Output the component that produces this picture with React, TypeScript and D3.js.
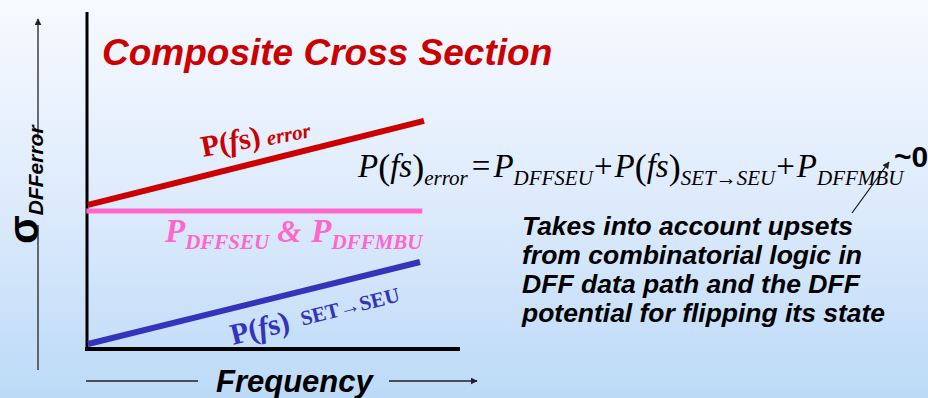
import React from "react";
import * as d3 from "d3";

// ---- data (normalized frequency vs. cross section) ----
const errorFreq = [0, 1];
const errorSigma = [42.6, 67.6];
const seuFreq = [-0.005, 0.995];
const seuSigma = [40.8, 40.8];
const setFreq = [0, 0.988];
const setSigma = [1.2, 25.6];

const titleText = "Composite Cross Section";
const xAxisLabel = "Frequency";
const noteLines = [
  "Takes into account upsets",
  "from combinatorial logic in",
  "DFF data path and the DFF",
  "potential for flipping its state",
];
const noteWidths = [331, 340, 338, 363];

const W = 928;
const H = 398;

export default function App() {
  const x = d3.scaleLinear().domain([0, 1]).range([88, 424]);
  const y = d3.scaleLinear().domain([0, 100]).range([348, 12]);
  const line = d3
    .line<[number, number]>()
    .x((d) => x(d[0]))
    .y((d) => y(d[1]));
  const pts = (fx: number[], sy: number[]) =>
    fx.map((f, i) => [f, sy[i]] as [number, number]);

  const sans = "'Liberation Sans', Arial, Helvetica, sans-serif";
  const serif = "'Liberation Serif', 'Times New Roman', Times, serif";

  return (
    <svg
      width={W}
      height={H}
      viewBox={`0 0 ${W} ${H}`}
      style={{ position: "absolute", left: 0, top: 0, display: "block" }}
    >
      <defs>
        <linearGradient id="bg" x1="0" y1="0" x2="0" y2="1">
          <stop offset="0" stopColor="#f7faff" />
          <stop offset="0.5" stopColor="#deebfc" />
          <stop offset="1" stopColor="#bcdaf7" />
        </linearGradient>
        <marker
          id="arr"
          viewBox="0 0 10 10"
          refX="9"
          refY="5"
          markerWidth="7"
          markerHeight="7"
          markerUnits="userSpaceOnUse"
          orient="auto"
        >
          <path d="M0,0 L10,5 L0,10 z" fill="#222" />
        </marker>
      </defs>
      <rect x={0} y={0} width={W} height={H} fill="url(#bg)" />

      {/* y axis direction arrow */}
      <line x1={38} y1={370} x2={38} y2={225} stroke="#333" strokeWidth={1.4} />
      <line
        x1={38}
        y1={140}
        x2={38}
        y2={19}
        stroke="#333"
        strokeWidth={1.4}
        markerEnd="url(#arr)"
      />
      <text
        transform="translate(38,244) rotate(-90)"
        fontFamily={sans}
        fontWeight="bold"
        fill="#000"
      >
        <tspan fontSize={42}>σ</tspan>
        <tspan fontSize={21} fontStyle="italic" dy={5}>
          DFFerror
        </tspan>
      </text>

      {/* x axis direction arrow */}
      <line x1={86} y1={381} x2={198} y2={381} stroke="#222" strokeWidth={1.4} />
      <line
        x1={389}
        y1={381}
        x2={477}
        y2={381}
        stroke="#222"
        strokeWidth={1.4}
        markerEnd="url(#arr)"
      />
      <text
        x={216}
        y={392}
        fontFamily={sans}
        fontWeight="bold"
        fontStyle="italic"
        fontSize={31}
        fill="#000"
      >
        {xAxisLabel}
      </text>

      {/* axes */}
      <line x1={x(0) - 1} y1={y(100)} x2={x(0) - 1} y2={y(0) + 2} stroke="#000" strokeWidth={3} />
      <line x1={x(0) - 3} y1={y(0) + 1} x2={460} y2={y(0) + 1} stroke="#000" strokeWidth={4} />

      {/* title */}
      <text
        x={102}
        y={65}
        fontFamily={sans}
        fontWeight="bold"
        fontStyle="italic"
        fontSize={37}
        fill="#cc0000"
      >
        {titleText}
      </text>

      {/* series lines */}
      <path d={line(pts(seuFreq, seuSigma)) || ""} stroke="#ff66cc" strokeWidth={5} fill="none" />
      <path d={line(pts(errorFreq, errorSigma)) || ""} stroke="#cc0000" strokeWidth={6} fill="none" />
      <path d={line(pts(setFreq, setSigma)) || ""} stroke="#3333bb" strokeWidth={6} fill="none" />

      {/* red label */}
      <text
        transform="translate(203,157) rotate(-11)"
        fontFamily={serif}
        fontWeight="bold"
        fontSize={30}
        fill="#cc0000"
      >
        <tspan>P(</tspan>
        <tspan fontStyle="italic">f</tspan>
        <tspan>s)</tspan>
        <tspan fontSize={21} fontStyle="italic" dx={6} dy={1}>
          error
        </tspan>
      </text>

      {/* pink label */}
      <text
        x={165}
        y={242}
        fontFamily={serif}
        fontWeight="bold"
        fontStyle="italic"
        fontSize={33}
        fill="#ff66cc"
      >
        <tspan>P</tspan>
        <tspan fontSize={21} dy={7}>
          DFFSEU
        </tspan>
        <tspan dy={-7} dx={8} fontSize={31}>
          &amp;
        </tspan>
        <tspan dx={10}>P</tspan>
        <tspan fontSize={21} dy={7}>
          DFFMBU
        </tspan>
      </text>

      {/* blue label */}
      <text
        transform="translate(233,345) rotate(-14)"
        fontFamily={serif}
        fontWeight="bold"
        fontSize={30}
        fill="#3333bb"
      >
        <tspan>P(</tspan>
        <tspan fontStyle="italic">f</tspan>
        <tspan>s)</tspan>
        <tspan fontSize={21} dx={12} dy={-2}>
          SET→SEU
        </tspan>
      </text>

      {/* equation */}
      <text x={358} y={177} fontFamily={serif} fontStyle="italic" fontSize={33} fill="#000">
        <tspan>P</tspan>
        <tspan fontStyle="normal" fontSize={36} dy={2}>(</tspan>
        <tspan dy={-2}>fs</tspan>
        <tspan fontStyle="normal" fontSize={36} dy={2}>)</tspan>
        <tspan fontSize={21} dy={6}>
          error
        </tspan>
        <tspan dy={-8} dx={4} fontStyle="normal">
          =
        </tspan>
        <tspan dx={3}>P</tspan>
        <tspan fontSize={21} dy={8}>
          DFFSEU
        </tspan>
        <tspan dy={-8} dx={1} fontStyle="normal">
          +
        </tspan>
        <tspan dx={2}>P</tspan>
        <tspan fontStyle="normal" fontSize={36} dy={2}>(</tspan>
        <tspan dy={-2}>fs</tspan>
        <tspan fontStyle="normal" fontSize={36} dy={2}>)</tspan>
        <tspan fontSize={21} dy={6}>
          SET→SEU
        </tspan>
        <tspan dy={-8} dx={1} fontStyle="normal">
          +
        </tspan>
        <tspan dx={2}>P</tspan>
        <tspan fontSize={21} dy={8}>
          DFFMBU
        </tspan>
      </text>
      <text
        x={894}
        y={167}
        fontFamily={sans}
        fontWeight="bold"
        fontSize={30}
        fill="#000"
      >
        ~0
      </text>
      <line
        x1={852}
        y1={213}
        x2={889}
        y2={162}
        stroke="#111"
        strokeWidth={1.2}
        markerEnd="url(#arr)"
      />

      {/* note */}
      <text fontFamily={sans} fontWeight="bold" fontStyle="italic" fontSize={25} fill="#000">
        {noteLines.map((t, i) => (
          <tspan
            key={i}
            x={522}
            y={235 + i * 29}
            textLength={noteWidths[i]}
            lengthAdjust="spacingAndGlyphs"
          >
            {t}
          </tspan>
        ))}
      </text>
    </svg>
  );
}
